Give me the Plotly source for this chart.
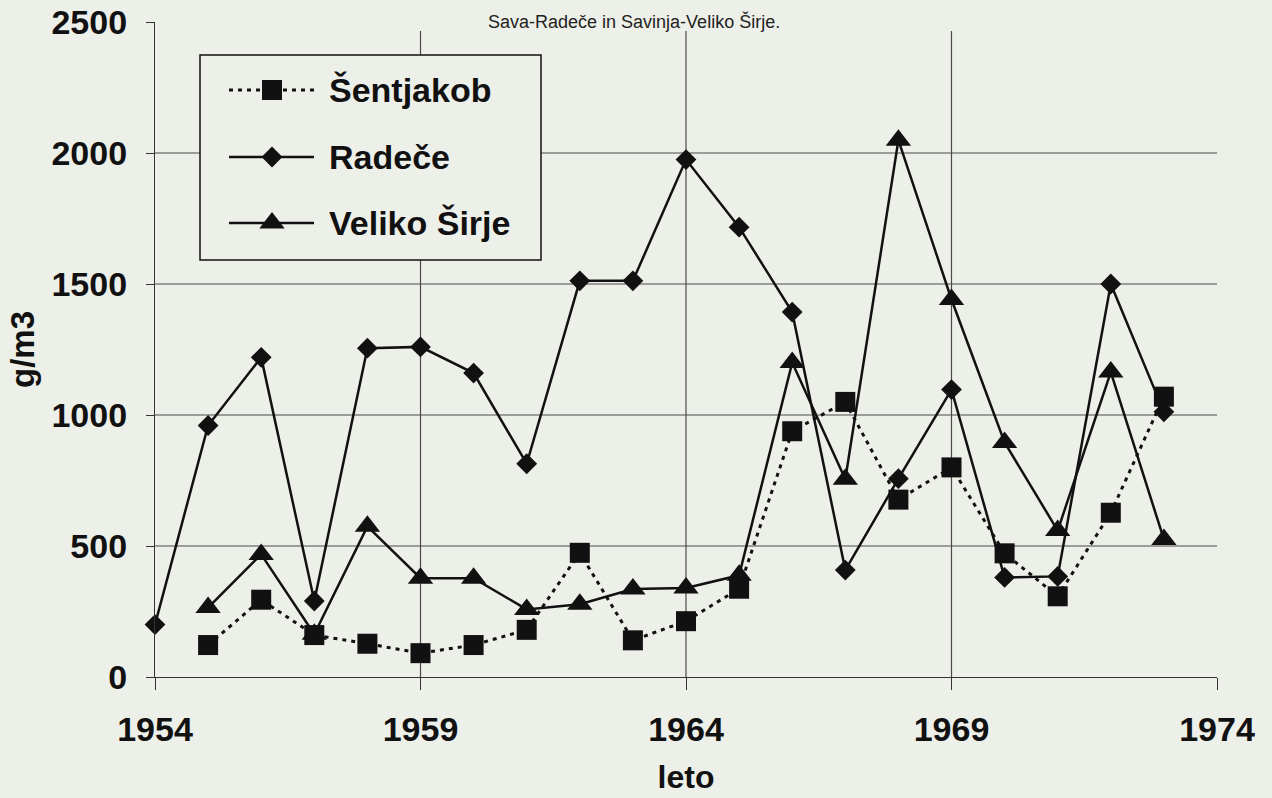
import plotly.graph_objects as go

# ---------------- data ----------------
years = list(range(1954, 1974))
sentjakob = [None, 122, 295, 160, 127, 91, 122, 180, 474, 140, 213, 337, 938, 1050, 677, 800, 472, 308, 627, 1070]
radece = [200, 960, 1220, 290, 1255, 1260, 1160, 814, 1512, 1512, 1975, 1717, 1393, 408, 757, 1097, 380, 384, 1500, 1012]
veliko_sirje = [None, 265, 468, 163, 575, 377, 377, 258, 278, 336, 340, 388, 1200, 755, 2049, 1441, 895, 559, 1164, 525]

series_names = ["Šentjakob", "Radeče", "Veliko Širje"]
x_ticks = [1954, 1959, 1964, 1969, 1974]
y_ticks = [0, 500, 1000, 1500, 2000, 2500]
x_grid = [1959, 1964, 1969]
y_grid = [500, 1000, 1500, 2000]
title_text = "Sava-Radeče in Savinja-Veliko Širje."
x_title = "leto"
y_title = "g/m3"

# ---------------- geometry / style ----------------
W, H = 1272, 798
PLOT_L, PLOT_R, PLOT_T, PLOT_B = 155, 1217, 22, 677  # target pixels
L = PLOT_L
T = PLOT_T
R = W - PLOT_R
B = H - PLOT_B
PW, PH = W - L - R, H - T - B
BG = "#edf0e9"
INK = "#111111"
GRID = "#4a4a4a"
FONT = "Liberation Sans, Arial, sans-serif"


def px_x(p):
    return (p - PLOT_L) / PW


def px_y(p):
    return (PLOT_B - p) / PH


fig = go.Figure()

fig.add_trace(go.Scatter(
    x=years, y=veliko_sirje, name=series_names[2], mode="lines+markers",
    line=dict(color=INK, width=2.5),
    marker=dict(symbol="triangle-up", size=22, color=INK),
    cliponaxis=False, showlegend=False))
fig.add_trace(go.Scatter(
    x=years, y=radece, name=series_names[1], mode="lines+markers",
    line=dict(color=INK, width=2.5),
    marker=dict(symbol="diamond", size=16, color=INK),
    cliponaxis=False, showlegend=False))
fig.add_trace(go.Scatter(
    x=years, y=sentjakob, name=series_names[0], mode="lines+markers",
    line=dict(color=INK, width=3, dash="4px,5px"),
    marker=dict(symbol="square", size=20, color=INK),
    cliponaxis=False, showlegend=False))

shapes = []
# grid lines
for gx in x_grid:
    shapes.append(dict(type="line", xref="x", yref="paper", x0=gx, x1=gx,
                       y0=0, y1=px_y(31), line=dict(color=GRID, width=1.2), layer="below"))
for gy in y_grid:
    shapes.append(dict(type="line", xref="paper", yref="y", x0=0, x1=1,
                       y0=gy, y1=gy, line=dict(color=GRID, width=1.2), layer="below"))

# legend box
shapes.append(dict(type="rect", xref="paper", yref="paper",
                   x0=px_x(200), x1=px_x(541), y0=px_y(260), y1=px_y(55),
                   line=dict(color=INK, width=1.5), fillcolor=BG, layer="above"))

legend_rows = [90, 157, 223]
legend_dash = ["4px,5px", "solid", "solid"]
legend_paths = [
    "M-10,-10 H10 V10 H-10 Z",
    "M-10.4,0 L0,10.4 L10.4,0 L0,-10.4 Z",
    "M-12.7,-5.5 H12.7 L0,11 Z",
]
annotations = []
for name, row, dash, path in zip(series_names, legend_rows, legend_dash, legend_paths):
    shapes.append(dict(type="line", xref="paper", yref="paper",
                       x0=px_x(229), x1=px_x(314), y0=px_y(row), y1=px_y(row),
                       line=dict(color=INK, width=2.5 if dash == "solid" else 3, dash=dash),
                       layer="above"))
    shapes.append(dict(type="path", xref="paper", yref="paper",
                       xsizemode="pixel", ysizemode="pixel",
                       xanchor=px_x(272), yanchor=px_y(row), path=path,
                       fillcolor=INK, line=dict(width=0), layer="above"))
    annotations.append(dict(text=name, xref="paper", yref="paper",
                            x=px_x(327), y=px_y(row), xanchor="left", yanchor="middle",
                            showarrow=False,
                            font=dict(family=FONT, size=34, color=INK, weight="bold")))

annotations.append(dict(text=title_text, xref="paper", yref="paper",
                        x=px_x(634), y=px_y(9), xanchor="center", yanchor="top",
                        showarrow=False, font=dict(family=FONT, size=18, color="#222222")))

fig.update_layout(
    width=W, height=H,
    margin=dict(l=L, r=R, t=T, b=B, autoexpand=False),
    paper_bgcolor=BG, plot_bgcolor=BG,
    shapes=shapes, annotations=annotations,
    showlegend=False,
    font=dict(family=FONT, color=INK),
)
fig.update_xaxes(
    range=[1954, 1974], tickmode="array", tickvals=x_ticks,
    ticks="outside", ticklen=12, tickwidth=1.3, tickcolor="#333333",
    showgrid=False, zeroline=False, showline=True, linecolor="#333333", linewidth=1.3,
    tickfont=dict(family=FONT, size=34, color=INK, weight="bold"), ticklabelstandoff=10,
    ticklabeloverflow="allow",
    title=dict(text=x_title, font=dict(family=FONT, size=32, color=INK, weight="bold"), standoff=18),
)
fig.update_yaxes(
    range=[0, 2500], tickmode="array", tickvals=y_ticks,
    ticks="outside", ticklen=8, tickwidth=1.3, tickcolor="#333333",
    showgrid=False, zeroline=False, showline=True, linecolor="#333333", linewidth=1.3,
    tickfont=dict(family=FONT, size=34, color=INK, weight="bold"), ticklabelstandoff=12,
    ticklabeloverflow="allow",
    title=dict(text=y_title, font=dict(family=FONT, size=33, color=INK, weight="bold"), standoff=6),
)

fig.write_html(
    "out.html",
    config={"displayModeBar": False},
    post_script="document.body.style.margin='0';document.body.style.overflow='hidden';",
)
